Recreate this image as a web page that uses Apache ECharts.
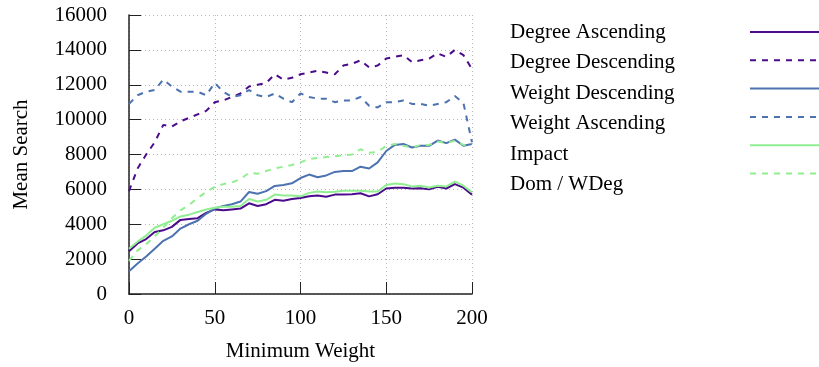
<!DOCTYPE html>
<html>
<head>
<meta charset="utf-8">
<script src="https://cdn.jsdelivr.net/npm/echarts@6/dist/echarts.min.js"></script>
<style>
  html, body { margin: 0; padding: 0; background: #fff; }
  #chart { width: 819px; height: 367px; }
</style>
</head>
<body>
<div id="chart"></div>
<script>
var minWeight = [0, 5, 10, 15, 20, 25, 30, 35, 40, 45, 50, 55, 60, 65, 70, 75, 80, 85, 90, 95, 100,
	105, 110, 115, 120, 125, 130, 135, 140, 145, 150, 155, 160, 165, 170, 175, 180, 185, 190, 195, 200];

var degreeAscending = [2450, 2900, 3150, 3550, 3650, 3850, 4250, 4300, 4350, 4650, 4850, 4800, 4850, 4900, 5200, 5050, 5150, 5400, 5350, 5450, 5500,
	5600, 5650, 5580, 5700, 5700, 5720, 5780, 5600, 5720, 6050, 6100, 6100, 6050, 6070, 6000, 6150, 6050, 6300, 6100, 5700];
var degreeDescending = [5900, 7200, 8000, 8700, 9700, 9600, 9900, 10100, 10300, 10500, 11000, 11100, 11300, 11500, 11900, 12000, 12100, 12600, 12300, 12400, 12600,
	12700, 12800, 12700, 12600, 13100, 13200, 13400, 13000, 13100, 13500, 13600, 13700, 13300, 13400, 13500, 13800, 13600, 14000, 13700, 12900];
var weightDescending = [1300, 1750, 2150, 2600, 3050, 3300, 3750, 4000, 4200, 4600, 4900, 5050, 5150, 5300, 5850, 5750, 5900, 6200, 6250, 6350, 6650,
	6850, 6700, 6800, 7000, 7050, 7050, 7300, 7200, 7550, 8200, 8550, 8600, 8400, 8500, 8500, 8800, 8650, 8850, 8500, 8600];
var weightAscending = [10900, 11400, 11600, 11700, 12300, 11900, 11600, 11600, 11600, 11400, 12100, 11600, 11300, 11400, 11700, 11400, 11300, 11500, 11200, 11000, 11500,
	11300, 11200, 11200, 11000, 11100, 11100, 11300, 10800, 10700, 11000, 11000, 11100, 10900, 10900, 10800, 10900, 11000, 11350, 10950, 8700];
var impact = [2600, 3000, 3350, 3800, 4000, 4200, 4450, 4550, 4700, 4850, 4950, 5000, 5000, 5050, 5450, 5300, 5400, 5700, 5650, 5650, 5600,
	5800, 5880, 5830, 5860, 5920, 5920, 5920, 5880, 5880, 6250, 6340, 6300, 6170, 6210, 6110, 6210, 6170, 6440, 6210, 5830];
var domWDeg = [1900, 2500, 2850, 3300, 3800, 4350, 4800, 5100, 5500, 5850, 6150, 6300, 6400, 6600, 6950, 6900, 7050, 7200, 7300, 7400, 7550,
	7750, 7800, 7850, 7900, 7950, 8000, 8300, 8100, 8150, 8500, 8600, 8500, 8400, 8550, 8550, 8750, 8650, 8800, 8550, 8600];

var seriesNames = ['Degree Ascending', 'Degree Descending', 'Weight Descending', 'Weight Ascending', 'Impact', 'Dom / WDeg'];
var xTicks = [0, 50, 100, 150, 200];
var yTicks = [0, 2000, 4000, 6000, 8000, 10000, 12000, 14000, 16000];

var purple = '#4b0c8c';
var blue = '#4c72b0';
var green = '#90ee90';
var fontFamily = 'Liberation Serif';

function pairs(values) {
	return minWeight.map(function (x, i) { return [x, values[i]]; });
}

function makeSeries(name, values, color, dashed) {
	return {
		name: name,
		type: 'line',
		data: pairs(values),
		symbol: 'none',
		smooth: false,
		color: color,
		lineStyle: {
			color: color,
			width: 2,
			type: dashed ? [6, 6] : 'solid'
		},
		emphasis: { disabled: true }
	};
}

var chart = echarts.init(document.getElementById('chart'));
var legendCommon = {
	orient: 'vertical',
	top: 16,
	itemGap: 8.5,
	itemHeight: 22,
	selectedMode: false,
	data: seriesNames
};

var option = {
	animation: false,
	textStyle: { fontFamily: fontFamily },
	grid: { left: 129, top: 15, width: 343, height: 282, containLabel: false },
	legend: [
		Object.assign({}, legendCommon, {
			left: 500,
			icon: 'rect',
			itemWidth: 0,
			itemStyle: { opacity: 0 },
			textStyle: { fontFamily: fontFamily, fontSize: 21, color: '#000', lineHeight: 22 }
		}),
		Object.assign({}, legendCommon, {
			left: 744,
			itemWidth: 75,
			itemStyle: { opacity: 0 },
			formatter: function () { return ''; },
			textStyle: { fontSize: 1 }
		})
	],
	xAxis: {
		type: 'value',
		min: xTicks[0],
		max: xTicks[xTicks.length - 1],
		interval: 50,
		name: 'Minimum Weight',
		nameLocation: 'middle',
		nameGap: 47,
		nameTextStyle: { fontFamily: fontFamily, fontSize: 21, color: '#000' },
		axisLine: { lineStyle: { color: '#222', width: 1.5 } },
		axisTick: { inside: true, length: 12, lineStyle: { color: '#222', width: 1 } },
		axisLabel: { margin: 14, fontFamily: fontFamily, fontSize: 21, color: '#000' },
		splitLine: { show: true, lineStyle: { color: '#b8b8b8', type: [1, 3], width: 1 } }
	},
	yAxis: {
		type: 'value',
		min: yTicks[0],
		max: yTicks[yTicks.length - 1],
		interval: 2000,
		name: 'Mean Search',
		nameLocation: 'middle',
		nameRotate: 90,
		nameGap: 97,
		nameTextStyle: { fontFamily: fontFamily, fontSize: 21, color: '#000' },
		axisLine: { show: true, lineStyle: { color: '#222', width: 1.5 } },
		axisTick: { show: true, inside: true, length: 12, lineStyle: { color: '#222', width: 1 } },
		axisLabel: {
			margin: 22, fontFamily: fontFamily, fontSize: 21, color: '#000',
			formatter: function (v) { return String(v); }
		},
		splitLine: { show: true, lineStyle: { color: '#b8b8b8', type: [1, 3], width: 1 } }
	},
	series: [
		makeSeries(seriesNames[0], degreeAscending, purple, false),
		makeSeries(seriesNames[1], degreeDescending, purple, true),
		makeSeries(seriesNames[2], weightDescending, blue, false),
		makeSeries(seriesNames[3], weightAscending, blue, true),
		makeSeries(seriesNames[4], impact, green, false),
		makeSeries(seriesNames[5], domWDeg, green, true)
	]
};
chart.setOption(option);
</script>
</body>
</html>
